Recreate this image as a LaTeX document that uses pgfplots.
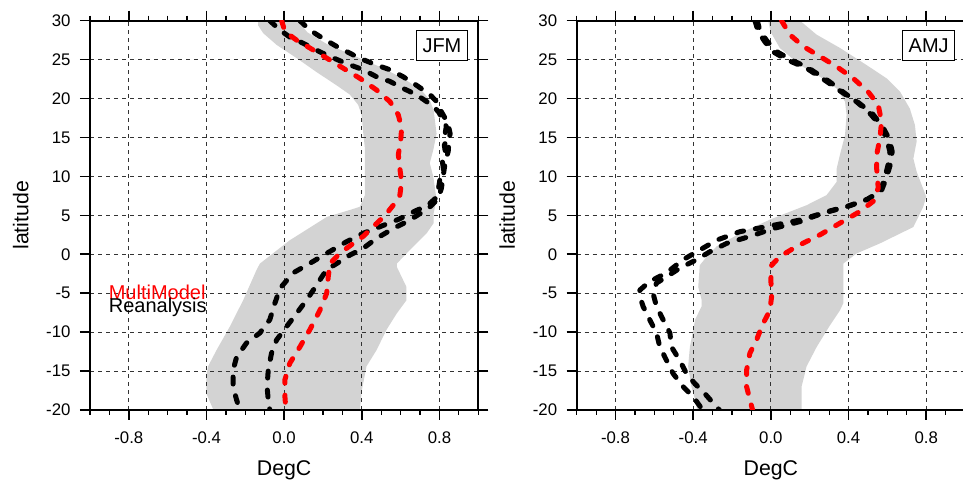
\documentclass[border=0pt]{standalone}
\usepackage{fontspec}
\setmainfont{Liberation Sans}
\usepackage{pgfplots}
\pgfplotsset{compat=1.18}
\definecolor{bandgray}{RGB}{211,211,211}
\tikzset{
 boxlab/.style={draw=black, fill=white, line width=0.9pt, anchor=north east, minimum width=51.6pt, minimum height=30pt, inner sep=0pt, font=\fontsize{20}{22}\selectfont},
 dsh/.style={line width=5pt, dash pattern=on 7pt off 12pt, line cap=round, line join=round},
}
\pgfplotsset{
 base/.style={
  scale only axis, width=388.3pt, height=389.3pt,
  xmin=-1, xmax=1, ymin=-20, ymax=30,
  anchor=south west,
 },
 frame/.style={
  base,
  axis on top,
  axis line style={line width=1.8pt},
  tick align=outside,
  major tick length=10pt, minor tick length=5pt,
  every major tick/.append style={line width=1.6pt, black},
  every minor tick/.append style={line width=1.2pt, black},
  xtick={-0.8,-0.4,0,0.4,0.8},
  xticklabels={-0.8,-0.4,0.0,0.4,0.8},
  minor xtick={-1,-0.9,-0.7,-0.6,-0.5,-0.3,-0.2,-0.1,0.1,0.2,0.3,0.5,0.6,0.7,0.9,1},
  ytick={-20,-15,...,30},
  yticklabels={-20,-15,-10,-5,0,5,10,15,20,25,30},
  grid=major,
  major grid style={black!80, line width=0.9pt, dash pattern=on 4pt off 4pt},
  tick label style={font=\fontsize{16.8}{18}\selectfont},
  xticklabel style={yshift=-8pt},
  yticklabel style={xshift=-6pt},
  label style={font=\fontsize{21.3}{24}\selectfont},
  xlabel={DegC}, ylabel={latitude},
  xlabel style={at={(axis description cs:0.5,-0.167)}, anchor=base},
  ylabel style={at={(axis description cs:-0.159,0.5)}, anchor=base},
 },
 curves/.style={base, hide axis},
}
\begin{document}
\begin{tikzpicture}
\useasboundingbox (0,0) rectangle (963pt,484pt);
% ---------------- JFM ----------------
\begin{axis}[frame, at={(90pt,74pt)}]
\addplot[fill=bandgray, draw=none] coordinates {
(-0.134,30) (-0.134,29.4) (-0.108,28.4) (-0.039,26.9) (0.064,25.2) (0.167,23.4) (0.27,21.7) (0.339,20.5) (0.381,19.2) (0.399,17.9) (0.407,15.7) (0.416,13.6) (0.416,11.4) (0.416,7.6) (0.39,6.1) (0.34,5.7) (0.22,4.8) (0.029,1.8) (-0.125,-1.2) (-0.142,-2.0) (-0.211,-5.9) (-0.28,-9.3) (-0.348,-12.3) (-0.392,-14.4) (-0.40,-15.5) (-0.40,-17.9) (-0.366,-19.9) (-0.36,-20)
(0.39,-20) (0.40,-17.5) (0.407,-16.6) (0.424,-14.4) (0.476,-12.3) (0.527,-9.7) (0.58,-7.6) (0.63,-5.9) (0.63,-4.2) (0.58,-1.6) (0.58,-1.2) (0.665,1.0) (0.734,2.7) (0.77,4) (0.77,5.3) (0.785,7) (0.768,10) (0.75,11.7) (0.768,13.4) (0.785,15.5) (0.77,18.5) (0.75,19.8) (0.71,21) (0.62,22.5) (0.5,24) (0.36,25.5) (0.22,27) (0.12,28.5) (0.07,30)
} -- cycle;
\end{axis}
\begin{axis}[curves, at={(90pt,74pt)}]
\addplot[dsh, black] coordinates {
(-0.074,30) (-0.022,28.8) (0.029,27.9) (0.098,27.1) (0.184,26.0) (0.236,25.4) (0.32,24.5) (0.407,23.7) (0.476,22.8) (0.545,22.2) (0.613,21.3) (0.682,20.5) (0.734,19.6) (0.768,19.0) (0.795,18.3) (0.82,17.2) (0.835,16.4) (0.83,15.6) (0.84,14.9) (0.825,14.0) (0.83,13.2) (0.815,11.9) (0.82,11.0) (0.805,10.2) (0.80,9.2) (0.795,8.5) (0.78,7.2) (0.74,6.3) (0.67,5.5) (0.59,4.5) (0.53,3.9) (0.407,2.7) (0.32,1.6) (0.22,0.13) (0.13,-1.2) (0.046,-2.4) (-0.022,-4.4) (-0.048,-6.3) (-0.074,-8.4) (-0.125,-10.1) (-0.194,-11.4) (-0.245,-13.2) (-0.263,-14.9) (-0.263,-17.0) (-0.245,-18.7) (-0.228,-20)
};
\addplot[dsh, black] coordinates {
(0.081,30) (0.132,28.8) (0.201,27.7) (0.27,26.7) (0.356,25.6) (0.407,25.0) (0.476,24.3) (0.545,23.7) (0.613,22.8) (0.682,21.7) (0.751,20.5) (0.786,19.6) (0.81,18.3) (0.835,17.2) (0.845,16.6) (0.855,15.5) (0.85,14.9) (0.845,13.2) (0.83,11.9) (0.82,10.2) (0.81,8.5) (0.795,7.2) (0.76,6.3) (0.742,5.9) (0.648,4.4) (0.562,3.3) (0.476,2.05) (0.407,0.76) (0.339,-0.1) (0.27,-1.2) (0.218,-2.0) (0.184,-3.3) (0.15,-4.6) (0.115,-5.9) (0.064,-7.6) (0.012,-9.3) (-0.039,-11.0) (-0.065,-12.7) (-0.082,-14.9) (-0.088,-17.0) (-0.082,-18.7) (-0.074,-20)
};
\addplot[dsh, red] coordinates {
(-0.013,30) (0.004,28.6) (0.064,27.5) (0.132,26.5) (0.219,25.2) (0.304,23.9) (0.39,22.6) (0.476,21.1) (0.545,19.6) (0.588,17.9) (0.605,16.2) (0.60,14.5) (0.588,12.8) (0.596,11.0) (0.605,9.3) (0.596,7.6) (0.562,6.3) (0.52,5.0) (0.459,3.55) (0.407,2.3) (0.356,1.4) (0.287,0.13) (0.236,-1.2) (0.227,-2.9) (0.219,-5.0) (0.184,-7.2) (0.132,-9.7) (0.081,-11.9) (0.029,-14.0) (0.004,-16.1) (0.004,-18.3) (0.009,-20)
};
\node[boxlab] at (axis cs:0.948,28.8) {JFM};
\node[anchor=base west, text=red, inner sep=0pt, font=\fontsize{20}{22}\selectfont] at (axis cs:-0.904,-5.87) {MultiModel};
\node[anchor=base west, text=black, inner sep=0pt, font=\fontsize{20}{22}\selectfont] at (axis cs:-0.904,-7.54) {Reanalysis};
\end{axis}
% ---------------- AMJ ----------------
\begin{axis}[frame, at={(576.7pt,74pt)}]
\addplot[fill=bandgray, draw=none] coordinates {
(-0.014,30) (0.0,28.5) (0.046,26.5) (0.15,24.3) (0.253,22.8) (0.339,21.3) (0.382,19.6) (0.39,17.9) (0.382,15.3) (0.356,12.8) (0.339,11.0) (0.339,9.3) (0.287,7.6) (0.184,6.3) (0.081,5.3) (0.0,4.5) (-0.15,2.8) (-0.28,1.0) (-0.33,-0.3) (-0.366,-1.4) (-0.374,-4.2) (-0.357,-5.8) (-0.357,-6.7) (-0.39,-8.4) (-0.417,-11.9) (-0.426,-14.4) (-0.409,-17) (-0.39,-18.7) (-0.38,-20)
(0.158,-20) (0.158,-17) (0.184,-14.4) (0.236,-11.9) (0.30,-9.3) (0.356,-7.2) (0.373,-6.3) (0.373,-1.2) (0.441,0.1) (0.562,1.4) (0.734,3.5) (0.785,6.1) (0.80,7.4) (0.777,8.9) (0.751,10.6) (0.734,12.3) (0.751,14.5) (0.742,16.6) (0.716,18.7) (0.665,20.9) (0.596,22.6) (0.493,24.3) (0.356,26.5) (0.236,28.2) (0.15,30)
} -- cycle;
\end{axis}
\begin{axis}[curves, at={(576.7pt,74pt)}]
\addplot[dsh, black] coordinates {
(-0.082,30) (-0.065,28.6) (-0.031,27.3) (0.012,26.0) (0.081,25.0) (0.184,23.9) (0.287,22.2) (0.373,20.7) (0.441,19.6) (0.51,18.1) (0.562,16.6) (0.596,14.9) (0.613,13.2) (0.604,11.5) (0.587,9.8) (0.562,8.0) (0.493,7.0) (0.39,6.1) (0.27,5.3) (0.15,4.4) (-0.022,3.55) (-0.16,2.9) (-0.28,1.8) (-0.366,0.55) (-0.452,-0.7) (-0.538,-2.4) (-0.624,-3.5) (-0.675,-4.6) (-0.675,-5.4) (-0.658,-6.7) (-0.624,-8.4) (-0.589,-10.1) (-0.572,-11.9) (-0.538,-13.6) (-0.504,-15.3) (-0.452,-17.0) (-0.40,-18.3) (-0.357,-19.8) (-0.35,-20)
};
\addplot[dsh, black] coordinates {
(-0.07,30) (-0.055,28.6) (-0.02,27.4) (0.025,26.1) (0.095,25.1) (0.195,23.9) (0.30,22.2) (0.385,20.6) (0.455,19.4) (0.525,18.0) (0.575,16.4) (0.61,14.8) (0.625,13.2) (0.615,11.5) (0.595,9.8) (0.57,8.2) (0.50,7.1) (0.40,6.2) (0.28,5.4) (0.15,4.2) (0.012,3.3) (-0.108,2.3) (-0.228,1.4) (-0.314,0.33) (-0.383,-0.7) (-0.47,-1.8) (-0.538,-2.9) (-0.589,-3.7) (-0.607,-5.0) (-0.589,-6.7) (-0.555,-8.4) (-0.52,-10.1) (-0.512,-11.9) (-0.47,-13.6) (-0.435,-15.3) (-0.392,-16.6) (-0.34,-17.9) (-0.28,-19.6) (-0.265,-20)
};
\addplot[dsh, red] coordinates {
(0.055,30) (0.098,28.2) (0.167,26.7) (0.253,25.4) (0.339,24.1) (0.424,22.6) (0.50,20.9) (0.553,19.2) (0.57,17.0) (0.562,14.9) (0.545,12.8) (0.545,11.0) (0.553,8.5) (0.527,6.8) (0.459,5.5) (0.356,4.0) (0.253,2.5) (0.132,1.0) (0.046,-0.3) (0.004,-1.4) (0.0,-3.3) (0.004,-5.4) (-0.005,-7.2) (-0.04,-8.9) (-0.074,-11.0) (-0.108,-12.7) (-0.125,-14.9) (-0.125,-17.0) (-0.108,-18.7) (-0.094,-20)
};
\node[boxlab] at (axis cs:0.948,28.8) {AMJ};
\end{axis}
\end{tikzpicture}
\end{document}
